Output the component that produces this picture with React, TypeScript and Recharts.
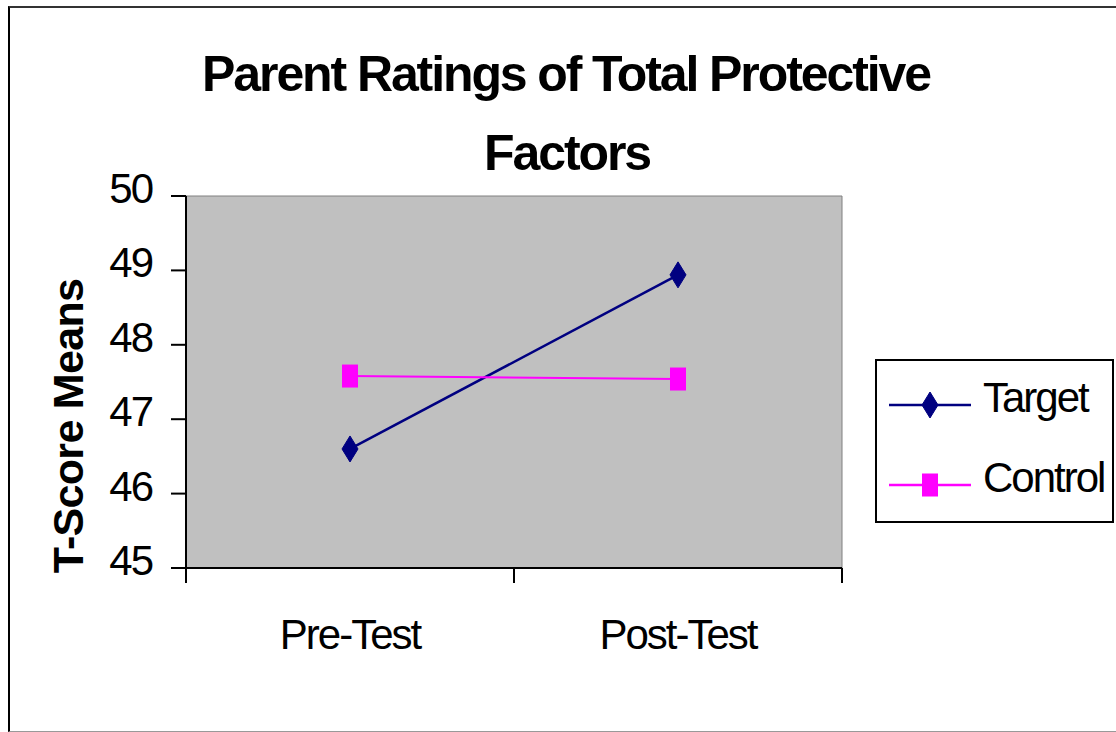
import { Legend, Line, LineChart, ReferenceArea, XAxis, YAxis } from 'recharts';

const phases = ['Pre-Test', 'Post-Test'];
const targetMeans = [46.6, 48.94];
const controlMeans = [47.58, 47.54];
const yTicks = [45, 46, 47, 48, 49, 50];
const seriesOrder = ['target', 'control'];

const data = phases.map((phase, i) => ({
  phase,
  target: targetMeans[i],
  control: controlMeans[i],
}));

const FONT = '"Liberation Sans", Arial, sans-serif';
const NAVY = '#000080';
const MAGENTA = '#ff00ff';
const X_TICK_GAP = 81;

const Diamond = ({ cx, cy }: { cx: number; cy: number }) => (
  <polygon
    points={`${cx},${cy - 13} ${cx + 8},${cy} ${cx},${cy + 13} ${cx - 8},${cy}`}
    fill={NAVY}
    stroke={NAVY}
    strokeWidth={1}
  />
);

const Square = ({ cx, cy }: { cx: number; cy: number }) => (
  <rect x={cx - 8} y={cy - 11.5} width={16} height={23} fill={MAGENTA} />
);

const YTick = ({ x, y, payload }: any) => (
  <text x={x} y={y + 7} textAnchor="end" fontSize={42} letterSpacing={-2} fontFamily={FONT} fill="#000">
    {payload.value}
  </text>
);

// category label plus the tick marks on the category boundaries (Excel style)
const XTick = ({ x, y, payload, index, visibleTicksCount }: any) => {
  const half = payload.offset ?? 0;
  const axisY = y - X_TICK_GAP;
  const isLast = index === (visibleTicksCount ?? phases.length) - 1;
  return (
    <g>
      <line x1={x - half} x2={x - half} y1={axisY} y2={axisY + 15} stroke="#000" strokeWidth={2} />
      {isLast && <line x1={x + half} x2={x + half} y1={axisY} y2={axisY + 15} stroke="#000" strokeWidth={2} />}
      <text x={x} y={y} textAnchor="middle" fontSize={42} letterSpacing={-2} fontFamily={FONT} fill="#000">
        {payload.value}
      </text>
    </g>
  );
};

const LegendBox = ({ payload }: any) => {
  const rows = [46, 126];
  const items = seriesOrder
    .map((key) => (payload || []).find((p: any) => p.dataKey === key))
    .filter(Boolean);
  return (
    <svg width={239} height={164} style={{ display: 'block' }}>
      <rect x={1} y={1} width={237} height={162} fill="#fff" stroke="#000" strokeWidth={2} />
      {items.map((entry: any, i: number) => {
        const cy = rows[i];
        const isTarget = entry.dataKey === 'target';
        const color = isTarget ? NAVY : MAGENTA;
        return (
          <g key={entry.value}>
            <line x1={14} x2={96} y1={cy} y2={cy} stroke={color} strokeWidth={2.5} />
            {isTarget ? <Diamond cx={55} cy={cy} /> : <Square cx={55} cy={cy} />}
            <text x={108} y={cy + 7} fontSize={42} letterSpacing={-2} fontFamily={FONT} fill="#000">
              {entry.value}
            </text>
          </g>
        );
      })}
    </svg>
  );
};

const renderDiamond = (props: any) => <Diamond key={`t-${props.index}`} cx={props.cx} cy={props.cy} />;
const renderSquare = (props: any) => <Square key={`c-${props.index}`} cx={props.cx} cy={props.cy} />;

export default function App() {
  return (
    <div style={{ position: 'absolute', left: 0, top: 0, width: 1116, height: 732, overflow: 'hidden', background: '#fff' }}>
      <div
        style={{
          position: 'absolute',
          left: 8,
          top: 6,
          width: 1200,
          height: 723,
          borderLeft: '2px solid #000',
          borderTop: '2px solid #333',
          borderBottom: '1px solid #999',
        }}
      />
      <div
        style={{
          position: 'absolute',
          left: 0,
          width: 1132,
          top: 49,
          textAlign: 'center',
          fontFamily: FONT,
          fontWeight: 700,
          fontSize: 50,
          lineHeight: '50px',
          letterSpacing: -2.1,
          whiteSpace: 'nowrap',
        }}
      >
        Parent Ratings of Total Protective
      </div>
      <div
        style={{
          position: 'absolute',
          left: 0,
          width: 1134,
          top: 128,
          textAlign: 'center',
          fontFamily: FONT,
          fontWeight: 700,
          fontSize: 50,
          lineHeight: '50px',
          letterSpacing: -2.1,
          whiteSpace: 'nowrap',
        }}
      >
        Factors
      </div>
      <div
        style={{
          position: 'absolute',
          left: 68,
          top: 426,
          transform: 'translate(-50%, -50%) rotate(-90deg)',
          fontFamily: FONT,
          fontWeight: 700,
          fontSize: 43,
          lineHeight: '43px',
          letterSpacing: -0.7,
          whiteSpace: 'nowrap',
        }}
      >
        T-Score Means
      </div>
      <LineChart width={1116} height={732} data={data} margin={{ top: 196, right: 274, bottom: 0, left: 0 }}>
        <XAxis
          dataKey="phase"
          scale="band"
          interval={0}
          axisLine={{ stroke: '#000', strokeWidth: 2 }}
          tickLine={false}
          tickSize={0}
          tickMargin={X_TICK_GAP}
          height={164}
          tick={<XTick />}
        />
        <YAxis
          domain={[45, 50]}
          ticks={yTicks}
          interval={0}
          width={186}
          tickSize={15}
          tickMargin={19}
          axisLine={{ stroke: '#000', strokeWidth: 2 }}
          tickLine={{ stroke: '#000', strokeWidth: 2 }}
          tick={<YTick />}
        />
        <ReferenceArea y1={45} y2={50} fill="#c0c0c0" fillOpacity={1} stroke="#808080" strokeWidth={1} />
        <Legend
          layout="horizontal"
          verticalAlign="middle"
          align="center"
          wrapperStyle={{ left: 875, top: 359, width: 239, height: 164 }}
          content={<LegendBox />}
        />
        <Line
          dataKey="target"
          name="Target"
          stroke={NAVY}
          strokeWidth={2.5}
          dot={renderDiamond}
          activeDot={false}
          isAnimationActive={false}
        />
        <Line
          dataKey="control"
          name="Control"
          stroke={MAGENTA}
          strokeWidth={2}
          dot={renderSquare}
          activeDot={false}
          isAnimationActive={false}
        />
      </LineChart>
    </div>
  );
}
